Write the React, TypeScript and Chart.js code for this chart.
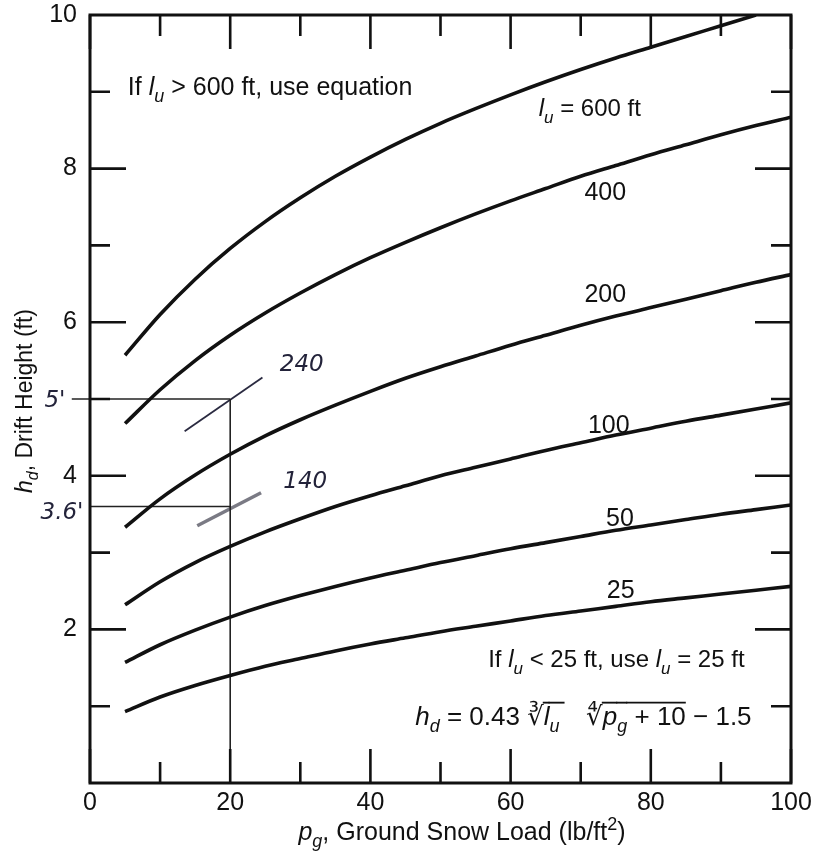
import React, { useEffect, useRef } from 'react';
import { Chart, registerables } from 'chart.js';

Chart.register(...registerables);

const FONT = '"Liberation Sans", "DejaVu Sans", Arial, sans-serif';
const HAND = '"DejaVu Sans", sans-serif';

// Ground snow load p_g (lb/ft^2)
const pgValues = [5, 10, 15, 20, 25, 30, 35, 40, 45, 50, 55, 60, 65, 70, 75, 80, 85, 90, 95, 100];
const pg600 = [5, 10, 15, 20, 25, 30, 35, 40, 45, 50, 55, 60, 65, 70, 75, 80, 85, 90, 95];

// Drift height h_d (ft) for each l_u curve
const hd25 = [0.93, 1.12, 1.27, 1.4, 1.52, 1.62, 1.72, 1.81, 1.89, 1.97, 2.04, 2.11, 2.18, 2.24, 2.3, 2.36, 2.41, 2.46, 2.51, 2.56];
const hd50 = [1.57, 1.8, 1.99, 2.16, 2.31, 2.44, 2.56, 2.67, 2.77, 2.87, 2.96, 3.05, 3.13, 3.21, 3.29, 3.36, 3.43, 3.5, 3.56, 3.62];
const hd100 = [2.32, 2.62, 2.87, 3.08, 3.27, 3.44, 3.6, 3.74, 3.87, 4.0, 4.11, 4.22, 4.33, 4.43, 4.53, 4.62, 4.71, 4.79, 4.87, 4.95];
const hd200 = [3.33, 3.7, 4.01, 4.28, 4.52, 4.73, 4.92, 5.1, 5.27, 5.42, 5.56, 5.7, 5.83, 5.96, 6.08, 6.19, 6.3, 6.41, 6.52, 6.62];
const hd400 = [4.68, 5.12, 5.5, 5.83, 6.12, 6.38, 6.62, 6.84, 7.04, 7.23, 7.41, 7.58, 7.74, 7.9, 8.04, 8.18, 8.31, 8.44, 8.56, 8.67];
const hd600 = [5.57, 6.1, 6.56, 6.96, 7.31, 7.62, 7.9, 8.15, 8.38, 8.59, 8.78, 8.96, 9.13, 9.29, 9.44, 9.58, 9.72, 9.86, 10.0];

// Curve labels: anchor (center, baseline)
const curveLabelText = ['600', '400', '200', '100', '50', '25'];
const curveLabelX = [71.3, 73.5, 73.5, 74, 75.6, 75.7];
const curveLabelY = [8.68, 7.59, 6.26, 4.56, 3.35, 2.41];

// Axis ticks
const xTickMajor = [0, 20, 40, 60, 80, 100];
const xTickMinor = [10, 30, 50, 70, 90];
const yTickMajor = [2, 4, 6, 8];
const yTickMinor = [1, 3, 5, 7, 9];

// Hand-drawn reading lines
const readH5X = [-2.6, 20];
const readH5Y = [5, 5];
const readH36X = [0, 20];
const readH36Y = [3.6, 3.6];
const readVX = [20, 20];
const readVY = [5, 0];
const stroke240X = [13.5, 24.6];
const stroke240Y = [4.58, 5.28];
const stroke140X = [15.3, 24.4];
const stroke140Y = [3.35, 3.78];
const handText = ['240', '140', "5'", "3.6'"];
const handX = [30.2, 30.7, -5.0, -4.0];
const handY = [5.44, 3.92, 4.97, 3.52];

type Seg = { t: string; it?: boolean; sub?: boolean; sup?: boolean; over?: boolean };

function drawRich(
  ctx: CanvasRenderingContext2D,
  segs: Seg[],
  x: number,
  y: number,
  size: number,
  align: 'left' | 'center' | 'right',
  color = '#111',
  family = FONT
) {
  const fonts = segs.map(
    (s) => `${s.it ? 'italic ' : ''}${s.sub || s.sup ? Math.round(size * 0.7) : size}px ${family}`
  );
  const widths = segs.map((s, i) => {
    ctx.font = fonts[i];
    return ctx.measureText(s.t).width;
  });
  const total = widths.reduce((a, b) => a + b, 0);
  let cx = align === 'center' ? x - total / 2 : align === 'right' ? x - total : x;
  ctx.fillStyle = color;
  ctx.textAlign = 'left';
  ctx.textBaseline = 'alphabetic';
  segs.forEach((s, i) => {
    ctx.font = fonts[i];
    const dy = s.sub ? size * 0.28 : s.sup ? -size * 0.42 : 0;
    ctx.fillText(s.t, cx, y + dy);
    if (s.over) {
      ctx.beginPath();
      ctx.lineWidth = Math.max(1.5, size / 14);
      ctx.strokeStyle = color;
      const oy = y - size * 0.86;
      ctx.moveTo(cx - 1, oy);
      ctx.lineTo(cx + widths[i], oy);
      ctx.stroke();
    }
    cx += widths[i];
  });
}

const framePlugin = {
  id: 'frameTicks',
  afterDatasetsDraw(chart: any) {
    const { ctx, chartArea, scales } = chart;
    const { left, right, top, bottom } = chartArea;
    const xs = scales.x;
    const ys = scales.y;
    ctx.save();
    ctx.strokeStyle = '#111';
    ctx.lineWidth = 3;
    ctx.strokeRect(left, top, right - left, bottom - top);
    ctx.lineWidth = 2.6;
    ctx.beginPath();
    const xt = (v: number, len: number) => {
      const p = xs.getPixelForValue(v);
      ctx.moveTo(p, bottom);
      ctx.lineTo(p, bottom - len);
      ctx.moveTo(p, top);
      ctx.lineTo(p, top + len);
    };
    const yt = (v: number, len: number) => {
      const p = ys.getPixelForValue(v);
      ctx.moveTo(left, p);
      ctx.lineTo(left + len, p);
      ctx.moveTo(right, p);
      ctx.lineTo(right - len, p);
    };
    xTickMajor.forEach((v) => xt(v, 34));
    xTickMinor.forEach((v) => xt(v, 21));
    yTickMajor.forEach((v) => yt(v, 36));
    yTickMinor.forEach((v) => yt(v, 20));
    ctx.stroke();

    const px = (v: number) => xs.getPixelForValue(v);
    const py = (v: number) => ys.getPixelForValue(v);

    // curve labels
    curveLabelText.forEach((t, i) => {
      if (i === 0) {
        drawRich(
          ctx,
          [{ t: 'l', it: true }, { t: 'u', it: true, sub: true }, { t: ' = ' + t + ' ft' }],
          px(curveLabelX[i]),
          py(curveLabelY[i]),
          24,
          'center'
        );
      } else {
        drawRich(ctx, [{ t }], px(curveLabelX[i]), py(curveLabelY[i]), 25, 'center');
      }
    });

    // notes
    drawRich(
      ctx,
      [{ t: 'If ' }, { t: 'l', it: true }, { t: 'u', it: true, sub: true }, { t: ' > 600 ft, use equation' }],
      px(5.4),
      py(8.96),
      25,
      'left'
    );
    drawRich(
      ctx,
      [
        { t: 'If ' },
        { t: 'l', it: true },
        { t: 'u', it: true, sub: true },
        { t: ' < 25 ft, use ' },
        { t: 'l', it: true },
        { t: 'u', it: true, sub: true },
        { t: ' = 25 ft' },
      ],
      px(56.8),
      py(1.51),
      24,
      'left'
    );
    drawRich(
      ctx,
      [
        { t: 'h', it: true },
        { t: 'd', it: true, sub: true },
        { t: ' = 0.43 ' },
        { t: '∛' },
        { t: 'l', it: true, over: true },
        { t: 'u ', it: true, sub: true, over: true },
        { t: '   ' },
        { t: '∜' },
        { t: 'p', it: true, over: true },
        { t: 'g', it: true, sub: true, over: true },
        { t: ' + 10', over: true },
        { t: ' − 1.5' },
      ],
      px(46.4),
      py(0.755),
      26,
      'left'
    );

    // handwritten notes
    handText.forEach((t, i) => {
      ctx.save();
      ctx.font = `italic 23px ${HAND}`;
      ctx.fillStyle = '#23233a';
      ctx.textAlign = 'center';
      ctx.textBaseline = 'middle';
      ctx.fillText(t, px(handX[i]), py(handY[i]));
      ctx.restore();
    });

    // axis titles
    drawRich(
      ctx,
      [
        { t: 'p', it: true },
        { t: 'g', it: true, sub: true },
        { t: ', Ground Snow Load (lb/ft' },
        { t: '2', sup: true },
        { t: ')' },
      ],
      462,
      840,
      25,
      'center'
    );
    ctx.save();
    ctx.translate(32, 401);
    ctx.rotate(-Math.PI / 2);
    drawRich(
      ctx,
      [{ t: 'h', it: true }, { t: 'd', it: true, sub: true }, { t: ', Drift Height (ft)' }],
      0,
      0,
      23,
      'center'
    );
    ctx.restore();
    ctx.restore();
  },
};

const toPts = (xs: number[], ys: number[]) => xs.map((x, i) => ({ x, y: ys[i] }));

export default function App() {
  const ref = useRef<HTMLCanvasElement | null>(null);
  useEffect(() => {
    if (!ref.current) return;
    const curve = (data: { x: number; y: number }[]) => ({
      data,
      borderColor: '#111',
      borderWidth: 3.6,
      pointRadius: 0,
      cubicInterpolationMode: 'monotone' as const,
      fill: false,
    });
    const thin = (data: { x: number; y: number }[], color = '#222', w = 1.6) => ({
      data,
      borderColor: color,
      borderWidth: w,
      pointRadius: 0,
      tension: 0,
      fill: false,
      clip: false as any,
    });
    const chart = new Chart(ref.current, {
      type: 'line',
      data: {
        datasets: [
          curve(toPts(pgValues, hd25)),
          curve(toPts(pgValues, hd50)),
          curve(toPts(pgValues, hd100)),
          curve(toPts(pgValues, hd200)),
          curve(toPts(pgValues, hd400)),
          curve(toPts(pg600, hd600)),
          thin(toPts(readH5X, readH5Y)),
          thin(toPts(readH36X, readH36Y)),
          thin(toPts(readVX, readVY)),
          thin(toPts(stroke240X, stroke240Y), '#2a2a40', 1.8),
          thin(toPts(stroke140X, stroke140Y), '#7a7a84', 3.5),
        ] as any,
      },
      options: {
        animation: false,
        responsive: false,
        parsing: false as any,
        layout: { padding: { top: 15, right: 29, left: 0, bottom: 0 } },
        plugins: { legend: { display: false }, tooltip: { enabled: false } },
        scales: {
          x: {
            type: 'linear',
            min: 0,
            max: 100,
            grid: { display: false, drawTicks: false },
            border: { display: false },
            ticks: {
              stepSize: 20,
              color: '#111',
              font: { family: FONT, size: 25 },
              padding: 5,
              maxRotation: 0,
            },
            afterFit: (s: any) => {
              s.height = 71;
              s.paddingLeft = 0;
              s.paddingRight = 0;
            },
          },
          y: {
            type: 'linear',
            min: 0,
            max: 10,
            grid: { display: false, drawTicks: false },
            border: { display: false },
            ticks: {
              stepSize: 2,
              color: '#111',
              font: { family: FONT, size: 25 },
              padding: 13,
              callback: (v: any) => (v === 0 ? '' : String(v)),
            },
            afterFit: (s: any) => {
              s.width = 90;
              s.paddingTop = 0;
              s.paddingBottom = 0;
            },
          },
        },
      },
      plugins: [framePlugin],
    });
    return () => chart.destroy();
  }, []);
  return (
    <div style={{ position: 'fixed', left: 0, top: 0, width: 820, height: 854, background: '#fff' }}>
      <canvas ref={ref} width={820} height={854} style={{ width: 820, height: 854, display: 'block' }} />
    </div>
  );
}
